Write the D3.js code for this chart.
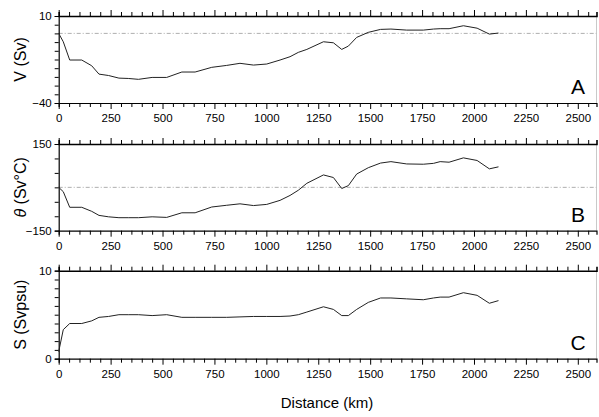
<!DOCTYPE html>
<html><head><meta charset="utf-8">
<script src="https://cdn.jsdelivr.net/npm/d3@7"></script>
<style>body{margin:0;background:#fff}svg{display:block}text{font-family:"Liberation Sans",Arial,Helvetica,sans-serif}</style>
</head><body><svg id="c" width="599" height="417"></svg>
<script>
const distance = [0,22,53,111,159,194,240,290,335,384,450,520,593,657,737,809,873,938,1002,1066,1114,1154,1195,1275,1323,1363,1395,1435,1491,1550,1600,1676,1756,1805,1837,1880,1949,2015,2074,2118];
const volume = [0,-4.8,-15.3,-15.3,-18.6,-23.4,-24.2,-25.7,-25.9,-26.4,-25.3,-25.3,-22.2,-22.2,-19.5,-18.4,-17.2,-18.2,-17.6,-15.3,-13.4,-10.9,-9.2,-4.8,-5.4,-9.2,-7.3,-2.3,0.6,2.3,2.5,1.9,1.9,2.5,2.7,2.7,4.4,3.0,-0.4,0.2];
const heat = [0,-15,-69,-69,-83,-97,-102,-105,-105,-105,-102,-104,-88,-88,-68,-62,-57,-63,-59,-45,-28,-10,14,43,34,-4,6,46,68,84,89,81,80,83,89,87,102,93,64,71];
const salt = [0.8,3.3,4.0,4.0,4.3,4.7,4.8,5.0,5.0,5.0,4.9,5.0,4.7,4.7,4.7,4.7,4.75,4.8,4.8,4.8,4.85,5.0,5.3,5.9,5.6,4.9,4.9,5.6,6.4,6.9,6.9,6.8,6.7,6.9,7.0,7.0,7.5,7.2,6.3,6.6];
const xTicks = [0,250,500,750,1000,1250,1500,1750,2000,2250,2500];
const panels = [
  {key:"A", label:"V (Sv)", values:volume, domain:[-40,10], step:5, zero:true},
  {key:"B", label:"θ", unit:" (Sv°C)", values:heat, domain:[-150,150], step:50, zero:true},
  {key:"C", label:"S (Svpsu)", values:salt, domain:[0,10], step:1, zero:false}
];
const tops = [16, 144, 270.7], heights = [87, 86.7, 88];

const svg = d3.select("#c");
const x = d3.scaleLinear().domain([0,2590]).range([58.7, 596.5]);
const minorX = d3.range(0, 2591, 50);

panels.forEach((p,i)=>{
  const t = tops[i], h = heights[i];
  const y = d3.scaleLinear().domain(p.domain).range([t+h, t]);
  const g = svg.append("g");
  if (p.zero) {
    g.append("line").attr("x1",x(0)).attr("x2",x(2590)).attr("y1",y(0)).attr("y2",y(0))
      .attr("stroke","#999").attr("stroke-width",0.8).attr("stroke-dasharray","4,2,1,2");
  }
  g.append("line").attr("x1",x(2590)).attr("x2",x(2590)).attr("y1",t).attr("y2",t+h)
    .attr("stroke","#bbb").attr("stroke-width",0.8);
  const top = g.append("g").attr("transform",`translate(0,${t})`)
    .call(d3.axisTop(x).tickValues(minorX).tickSize(4).tickFormat(""));
  top.selectAll(".tick line").attr("y2", d=> d%250===0 ? -6 : -4);
  top.select(".domain").attr("stroke-width",1.6);
  const bot = g.append("g").attr("transform",`translate(0,${t+h})`)
    .call(d3.axisBottom(x).tickValues(minorX).tickSize(4).tickFormat(""));
  bot.selectAll(".tick line").attr("y2", d=> d%250===0 ? 6 : 4);
  bot.select(".domain").attr("stroke-width",1.2);
  const lab = g.append("g").attr("transform",`translate(0,${t+h})`)
    .call(d3.axisBottom(x).tickValues(xTicks).tickSize(0).tickPadding(11).tickFormat(d3.format("d")));
  lab.select(".domain").remove();
  lab.selectAll("text").attr("font-size",11.5).attr("font-family","Liberation Sans, Arial, sans-serif").attr("fill","#000");
  const yt = d3.range(p.domain[0], p.domain[1]+0.001, p.step);
  const left = g.append("g").attr("transform",`translate(${x(0)},0)`)
    .call(d3.axisLeft(y).tickValues(yt).tickSize(4).tickPadding(3)
      .tickFormat(d => (d===p.domain[0]||d===p.domain[1]) ? d3.format("d")(d) : ""));
  left.select(".domain").attr("stroke-width",1.2);
  left.selectAll("text").attr("font-size",11.5).attr("font-family","Liberation Sans, Arial, sans-serif").attr("fill","#000");
  const line = d3.line().x((d,j)=>x(distance[j])).y(d=>y(d));
  g.append("path").datum(p.values).attr("d",line).attr("fill","none")
    .attr("stroke","#222").attr("stroke-width",1).attr("stroke-linejoin","round");
  const tt = g.append("text").attr("transform",`translate(26,${t+h/2}) rotate(-90)`)
    .attr("text-anchor","middle").attr("font-size",16).attr("fill","#000");
  if (p.unit) {
    tt.append("tspan").attr("font-style","italic").text(p.label);
    tt.append("tspan").text(p.unit);
  } else tt.text(p.label);
  g.append("text").attr("x",578).attr("y",t+h-9).attr("text-anchor","middle")
    .attr("font-size",21).attr("fill","#000").text(p.key);
});

svg.append("text").attr("x",327).attr("y",408).attr("text-anchor","middle")
  .attr("font-size",15).attr("fill","#000").text("Distance (km)");
</script></body></html>
